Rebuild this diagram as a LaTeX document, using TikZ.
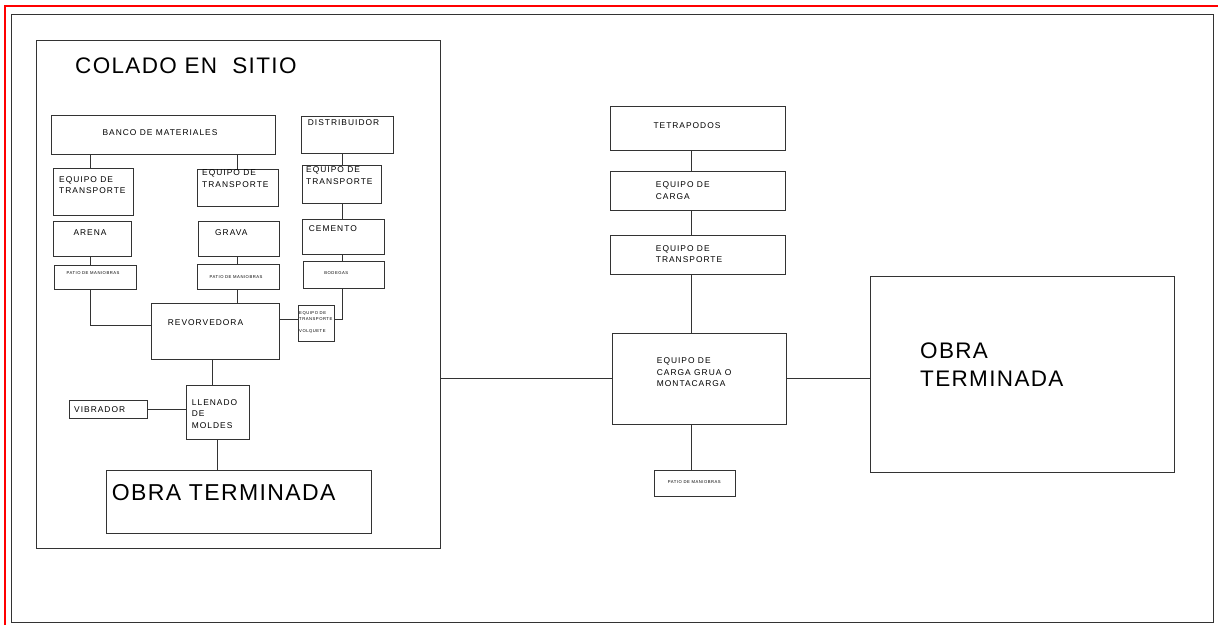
\documentclass[tikz,border=0pt]{standalone}
\usepackage{fontspec}
\setmainfont{Liberation Sans}
\newfontfamily\lblfont[LetterSpace=12]{Liberation Sans}
\newfontfamily\bigfont[LetterSpace=6]{Liberation Sans}
\usetikzlibrary{positioning}

\begin{document}
\begin{tikzpicture}[x=1pt, y=-1pt,
	box/.style 2 args={draw=black!80, line width=0.9pt, minimum width=#1, minimum height=#2, inner sep=0pt},
	lbl/.style={font=\fontsize{8.4}{11.3}\lblfont, inner sep=0pt, align=left, anchor=base west},
	tiny/.style={font=\fontsize{4.2}{6}\lblfont, inner sep=0pt, align=left, anchor=base},
	big/.style={font=\fontsize{23}{27.7}\bigfont, inner sep=0pt, align=left, anchor=base west},
	wire/.style={draw=black!80, line width=0.9pt}]
	 \useasboundingbox (0,0) rectangle (1218,625);
	 % marcos
	 \draw[red, line width=2pt] (4.8,625) -- (4.8,5.6) -- (1218,5.6);
	 \draw[black!80, line width=1pt] (11.7,14.5) rectangle (1213,622);
	 % colado en sitio (base = ultima linea)
	 \node [box={403.5}{507.5}] (colado) at (238.25,294.25) {};
	 \node [big, font=\fontsize{22.5}{27}\bigfont] (tColado) at (75,73.3) {COLADO EN\ \ SITIO};
	 \node [box={224}{39}] (banco) at (163.7,134.5) {};
	 \node [box={92}{36.3}] (dist) at (347,134.85) {};
	 \node [box={80}{47}] (eqA) at (93.3,191.5) {};
	 \node [box={81}{37.4}] (eqB) at (237.8,188) {};
	 \node [box={79}{37.6}] (eqC) at (342.2,184.5) {};
	 \node [box={78.4}{35}] (arena) at (92.5,239.2) {};
	 \node [box={81}{34.3}] (grava) at (238.8,238.85) {};
	 \node [box={81.3}{34.7}] (cem) at (343.35,236.65) {};
	 \node [box={81.7}{24.3}] (patA) at (95.15,277.15) {};
	 \node [box={81.7}{25}] (patB) at (238.15,276.8) {};
	 \node [box={80.7}{26.6}] (bod) at (343.65,275) {};
	 \node [box={127.6}{55.7}] (mixer) at (215.5,331.15) {};
	 \node [box={36}{35.3}] (volq) at (316.3,323.35) {};
	 \node [box={62.3}{53.7}] (fill) at (217.85,412.15) {};
	 \node [box={78.4}{18.3}] (vib) at (108.5,409.15) {};
	 \node [box={264.3}{63.3}] (obraL) at (238.85,501.65) {};
	 \node [lbl, anchor=base] (tBanco) at (160,135.2) {BANCO DE MATERIALES};
	 \node [lbl] (tDist) at (307.7,125.7) {DISTRIBUIDOR};
	 \node [lbl] (tEqA) at (59,193.7) {EQUIPO DE\\TRANSPORTE};
	 \node [lbl] (tEqB) at (202,187) {EQUIPO DE\\TRANSPORTE};
	 \node [lbl] (tEqC) at (306,184) {EQUIPO DE\\TRANSPORTE};
	 \node [lbl] (tArena) at (73.3,235.7) {ARENA};
	 \node [lbl] (tGrava) at (215,235.7) {GRAVA};
	 \node [lbl] (tCem) at (308.7,231.3) {CEMENTO};
	 \node [tiny] (tPatA) at (93,274.2) {PATIO DE MANIOBRAS};
	 \node [tiny] (tPatB) at (236,278.2) {PATIO DE MANIOBRAS};
	 \node [tiny] (tBod) at (336.3,274.8) {BODEGAS};
	 \node [lbl] (tMixer) at (167.7,325.3) {REVORVEDORA};
	 \node [tiny, anchor=base west] (tVolq) at (299,332.2) {EQUIPO DE\\TRANSPORTE\\[5.5pt]VOLQUETE};
	 \node [lbl] (tFill) at (191.7,428) {LLENADO\\DE\\MOLDES};
	 \node [lbl] (tVib) at (74,412) {VIBRADOR};
	 \node [big] (tObraL) at (111.7,500.7) {OBRA TERMINADA};
	 % tetrapodos
	 \node [box={175}{44}] (tetra) at (697.5,128) {};
	 \node [box={175}{39}] (carga) at (697.5,191.2) {};
	 \node [box={175}{39}] (trans) at (697.5,254.5) {};
	 \node [box={174.4}{91}] (grua) at (699.5,378.8) {};
	 \node [box={81.4}{26}] (patR) at (695,483) {};
	 \node [box={304}{195.6}] (obraR) at (1022,374.5) {};
	 \node [lbl] (tTetra) at (653.3,128.7) {TETRAPODOS};
	 \node [lbl] (tCarga) at (655.7,199) {EQUIPO DE\\CARGA};
	 \node [lbl] (tTrans) at (655.7,262.3) {EQUIPO DE\\TRANSPORTE};
	 \node [lbl] (tGrua) at (656.7,386.3) {EQUIPO DE\\CARGA GRUA O\\MONTACARGA};
	 \node [tiny] (tPatR) at (694.3,483.8) {PATIO DE MANIOBRAS};
	 \node [big, font=\fontsize{22.5}{27.7}\bigfont] (tObraR) at (920,386) {OBRA\\TERMINADA};
	 % lineas
	 \coordinate (colA) at (90.7,0);
	 \coordinate (colB) at (237.7,0);
	 \coordinate (colC) at (342.3,0);
	 \coordinate (colD) at (212.3,0);
	 \coordinate (colE) at (691,0);
	 \coordinate (rowM) at (0,325.7);
	 \coordinate (rowV) at (0,319.3);
	 \draw[wire] (colA |- banco.south) -- (colA |- eqA.north);
	 \draw[wire] (colB |- banco.south) -- (colB |- eqB.north);
	 \draw[wire] (colC |- dist.south) -- (colC |- eqC.north);
	 \draw[wire] (colC |- eqC.south) -- (colC |- cem.north);
	 \draw[wire] (colC |- cem.south) -- (colC |- bod.north);
	 \draw[wire] (colA |- arena.south) -- (colA |- patA.north);
	 \draw[wire] (colB |- grava.south) -- (colB |- patB.north);
	 \draw[wire] (colA |- patA.south) -- (colA |- rowM) -- (mixer.west |- rowM);
	 \draw[wire] (colB |- patB.south) -- (colB |- mixer.north);
	 \draw[wire] (mixer.east |- rowV) -- (volq.west |- rowV);
	 \draw[wire] (colC |- bod.south) -- (colC |- rowV) -- (volq.east |- rowV);
	 \draw[wire] (colD |- mixer.south) -- (colD |- fill.north);
	 \draw[wire] (vib.east) -- (vib.east -| fill.west);
	 \draw[wire] (fill.south) -- (fill.south |- obraL.north);
	 \draw[wire] (grua.west) -- (grua.west -| colado.east);
	 \draw[wire] (grua.east) -- (grua.east -| obraR.west);
	 \draw[wire] (colE |- tetra.south) -- (colE |- carga.north);
	 \draw[wire] (colE |- carga.south) -- (colE |- trans.north);
	 \draw[wire] (colE |- trans.south) -- (colE |- grua.north);
	 \draw[wire] (colE |- grua.south) -- (colE |- patR.north);
\end{tikzpicture}
\end{document}
